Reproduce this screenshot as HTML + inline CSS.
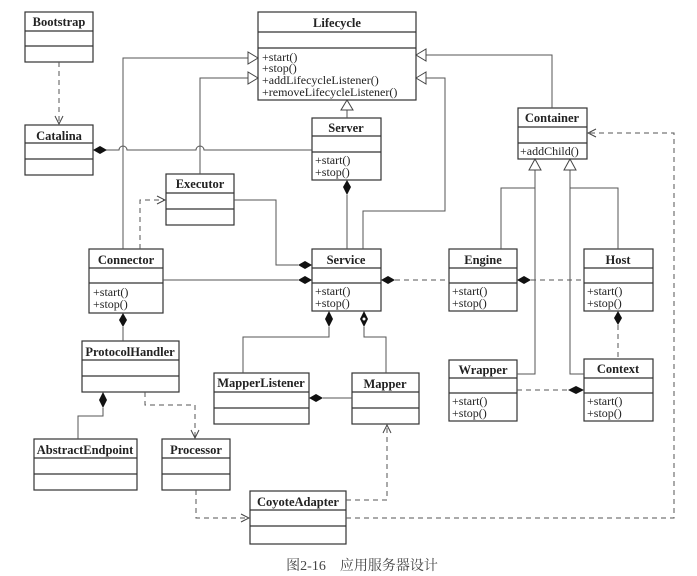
<!DOCTYPE html>
<html><head><meta charset="utf-8"><style>
html,body{margin:0;padding:0;background:#fff;}
svg{display:block;}
text{font-family:"Liberation Serif","Noto Serif CJK SC",serif;fill:#222;}
.t{font-weight:bold;font-size:12.5px;text-anchor:middle;}
.m{font-size:12px;}
</style></head><body>
<svg width="697" height="576" viewBox="0 0 697 576" xmlns="http://www.w3.org/2000/svg">
<defs>
<marker id="open" markerWidth="10" markerHeight="10" refX="9" refY="5" orient="auto" markerUnits="userSpaceOnUse">
<path d="M1,1 L9,5 L1,9" fill="none" stroke="#444" stroke-width="1"/></marker>
</defs>
<g fill="#fff" stroke="#333" stroke-width="1.2">
<rect x="25" y="12" width="68" height="50"/><line x1="25" y1="31" x2="93" y2="31"/><line x1="25" y1="46" x2="93" y2="46"/>
<rect x="258" y="12" width="158" height="88"/><line x1="258" y1="32" x2="416" y2="32"/><line x1="258" y1="48" x2="416" y2="48"/>
<rect x="25" y="125" width="68" height="50"/><line x1="25" y1="143" x2="93" y2="143"/><line x1="25" y1="159" x2="93" y2="159"/>
<rect x="312" y="118" width="69" height="62"/><line x1="312" y1="136" x2="381" y2="136"/><line x1="312" y1="152" x2="381" y2="152"/>
<rect x="518" y="108" width="69" height="51"/><line x1="518" y1="127" x2="587" y2="127"/><line x1="518" y1="143" x2="587" y2="143"/>
<rect x="166" y="174" width="68" height="51"/><line x1="166" y1="193" x2="234" y2="193"/><line x1="166" y1="209" x2="234" y2="209"/>
<rect x="89" y="249" width="74" height="64"/><line x1="89" y1="268" x2="163" y2="268"/><line x1="89" y1="283" x2="163" y2="283"/>
<rect x="312" y="249" width="69" height="62"/><line x1="312" y1="268" x2="381" y2="268"/><line x1="312" y1="283" x2="381" y2="283"/>
<rect x="449" y="249" width="68" height="62"/><line x1="449" y1="268" x2="517" y2="268"/><line x1="449" y1="283" x2="517" y2="283"/>
<rect x="584" y="249" width="69" height="62"/><line x1="584" y1="268" x2="653" y2="268"/><line x1="584" y1="283" x2="653" y2="283"/>
<rect x="82" y="341" width="97" height="51"/><line x1="82" y1="360" x2="179" y2="360"/><line x1="82" y1="376" x2="179" y2="376"/>
<rect x="214" y="373" width="95" height="51"/><line x1="214" y1="392" x2="309" y2="392"/><line x1="214" y1="408" x2="309" y2="408"/>
<rect x="352" y="373" width="67" height="51"/><line x1="352" y1="392" x2="419" y2="392"/><line x1="352" y1="408" x2="419" y2="408"/>
<rect x="449" y="360" width="68" height="61"/><line x1="449" y1="378" x2="517" y2="378"/><line x1="449" y1="393" x2="517" y2="393"/>
<rect x="584" y="359" width="69" height="62"/><line x1="584" y1="378" x2="653" y2="378"/><line x1="584" y1="393" x2="653" y2="393"/>
<rect x="34" y="439" width="103" height="51"/><line x1="34" y1="458" x2="137" y2="458"/><line x1="34" y1="474" x2="137" y2="474"/>
<rect x="162" y="439" width="68" height="51"/><line x1="162" y1="458" x2="230" y2="458"/><line x1="162" y1="474" x2="230" y2="474"/>
<rect x="250" y="491" width="96" height="53"/><line x1="250" y1="510" x2="346" y2="510"/><line x1="250" y1="526" x2="346" y2="526"/>
</g>

<g fill="none" stroke="#555" stroke-width="1">
<path d="M93,150 H119 A4,4 0 0 1 127,150 H196 A4,4 0 0 1 204,150 H312"/>
<path d="M123,249 V58 H248"/>
<path d="M200,174 V78 H248"/>
<path d="M347,118 V110"/>
<path d="M552,108 V55 H426"/>
<path d="M363,249 V211 H445 V78 H426"/>
<path d="M347,195 V249"/>
<path d="M234,200 H276 V265 H298"/>
<path d="M163,280 H298"/>
<path d="M501,249 V188 H535 M535,170 V374 H517"/>
<path d="M618,249 V188 H570 M570,170 V374 H584"/>
<path d="M329,327 V337 H243 V373"/>
<path d="M364,327 V337 H386 V373"/>
<path d="M352,398 H323"/>
<path d="M123,327 V341"/>
<path d="M103,408 V416 H78 V439"/>
</g>
<g fill="none" stroke="#555" stroke-width="1" stroke-dasharray="5,4">
<path d="M59,62 V124" marker-end="url(#open)"/>
<path d="M140,249 V200 H165" marker-end="url(#open)"/>
<path d="M395,280 H449"/>
<path d="M531,280 H584"/>
<path d="M618,325 V359"/>
<path d="M517,390 H568"/>
<path d="M145,392 V405 H195 V438" marker-end="url(#open)"/>
<path d="M196,490 V518 H249" marker-end="url(#open)"/>
<path d="M346,500 H387 V425" marker-end="url(#open)"/>
<path d="M346,518 H674 V133 H588" marker-end="url(#open)"/>
</g>
<g fill="#fff" stroke="#444" stroke-width="1">
<path d="M258,58 L248,52 L248,64 Z"/>
<path d="M258,78 L248,72 L248,84 Z"/>
<path d="M416,78 L426,72 L426,84 Z"/>
<path d="M416,55 L426,49 L426,61 Z"/>
<path d="M347,100 L341,110 L353,110 Z"/>
<path d="M535,159 L529,170 L541,170 Z"/>
<path d="M570,159 L564,170 L576,170 Z"/>
</g>
<g fill="#111">
<path d="M93,150 L100,146 L107,150 L100,154 Z"/>
<path d="M347,180 L351,187 L347,195 L343,187 Z"/>
<path d="M312,265 L305,261 L298,265 L305,269 Z"/>
<path d="M312,280 L305,276 L298,280 L305,284 Z"/>
<path d="M381,280 L388,276 L395,280 L388,284 Z"/>
<path d="M517,280 L524,276 L531,280 L524,284 Z"/>
<path d="M618,311 L622,318 L618,325 L614,318 Z"/>
<path d="M584,390 L576,386 L568,390 L576,394 Z"/>
<path d="M329,311 L333,319 L329,327 L325,319 Z"/>
<path d="M364,311 L368,319 L364,327 L360,319 Z"/>
<path d="M309,398 L316,394 L323,398 L316,402 Z"/>
<path d="M123,313 L127,320 L123,327 L119,320 Z"/>
<path d="M103,392 L107,400 L103,408 L99,400 Z"/>
</g>
<circle cx="364" cy="319" r="1.5" fill="#fff"/>

<text class="t" x="59" y="26">Bootstrap</text>
<text class="t" x="337" y="27">Lifecycle</text>
<text class="m" x="262" y="61">+start()</text>
<text class="m" x="262" y="72">+stop()</text>
<text class="m" x="262" y="84">+addLifecycleListener()</text>
<text class="m" x="262" y="96">+removeLifecycleListener()</text>
<text class="t" x="59" y="140">Catalina</text>
<text class="t" x="346" y="132">Server</text>
<text class="m" x="315" y="164">+start()</text>
<text class="m" x="315" y="176">+stop()</text>
<text class="t" x="552" y="122">Container</text>
<text class="m" x="520" y="155">+addChild()</text>
<text class="t" x="200" y="188">Executor</text>
<text class="t" x="126" y="264">Connector</text>
<text class="m" x="93" y="296">+start()</text>
<text class="m" x="93" y="308">+stop()</text>
<text class="t" x="346" y="264">Service</text>
<text class="m" x="315" y="295">+start()</text>
<text class="m" x="315" y="307">+stop()</text>
<text class="t" x="483" y="264">Engine</text>
<text class="m" x="452" y="295">+start()</text>
<text class="m" x="452" y="307">+stop()</text>
<text class="t" x="618" y="264">Host</text>
<text class="m" x="587" y="295">+start()</text>
<text class="m" x="587" y="307">+stop()</text>
<text class="t" x="130" y="356">ProtocolHandler</text>
<text class="t" x="261" y="387">MapperListener</text>
<text class="t" x="385" y="388">Mapper</text>
<text class="t" x="483" y="374">Wrapper</text>
<text class="m" x="452" y="405">+start()</text>
<text class="m" x="452" y="417">+stop()</text>
<text class="t" x="618" y="373">Context</text>
<text class="m" x="587" y="405">+start()</text>
<text class="m" x="587" y="417">+stop()</text>
<text class="t" x="85" y="454">AbstractEndpoint</text>
<text class="t" x="196" y="454">Processor</text>
<text class="t" x="298" y="506">CoyoteAdapter</text>
<text x="362" y="570" style="font-size:14px;text-anchor:middle;fill:#444">图2-16　应用服务器设计</text>
</svg>
</body></html>
